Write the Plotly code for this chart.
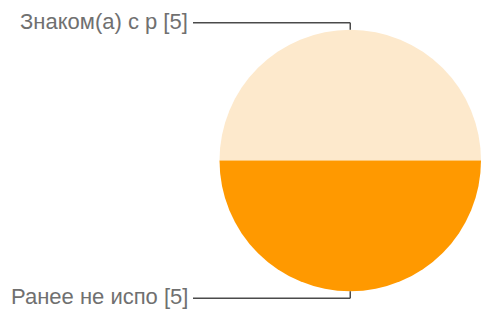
import plotly.graph_objects as go

labels = ["Знаком(а) с р", "Ранее не испо"]
values = [5, 5]
colors = ["#FDE9CC", "#FF9900"]

W, H = 481, 315
cx, cy, r = 353, 160.5, 133.5  # pixel geometry of the pie (target)

fig = go.Figure(go.Pie(
    labels=labels, values=values, sort=False,
    direction="clockwise", rotation=-90,
    marker=dict(colors=colors, line=dict(width=0)),
    textinfo="none", hoverinfo="label+value",
    domain=dict(x=[(cx - r) / W, 1.0],
                y=[(H - cy - r) / H, (H - cy + r) / H]),
    showlegend=False,
))

label_font = dict(family="Liberation Sans, Arial, sans-serif", size=22, color="#707070")
line_style = dict(color="#4a4a4a", width=1.5)
px_ = (cx - r + W) / 2  # actual pie centre x (domain limited by the right edge)
pr = (W - (cx - r)) / 2

rows = [(21.5, 22.7, cy - pr), (296, 298.3, cy + pr)]
for i, (ty, ly, yend) in enumerate(rows):
    fig.add_annotation(x=188 / W, y=1 - ty / H, xref="paper", yref="paper",
                       text=f"{labels[i]} [{values[i]}]", showarrow=False,
                       xanchor="right", yanchor="middle", font=label_font,
                       borderpad=0, xshift=1)
    fig.add_shape(type="line", xref="paper", yref="paper",
                  x0=193 / W, x1=px_ / W, y0=1 - ly / H, y1=1 - ly / H, line=line_style)
    fig.add_shape(type="line", xref="paper", yref="paper",
                  x0=px_ / W, x1=px_ / W, y0=1 - ly / H, y1=1 - yend / H, line=line_style)

fig.update_layout(width=W, height=H, margin=dict(l=0, r=0, t=0, b=0),
                  paper_bgcolor="white", plot_bgcolor="white")
fig.write_html("out.html", config={"displayModeBar": False},
               post_script="document.body.style.margin='0px';")
